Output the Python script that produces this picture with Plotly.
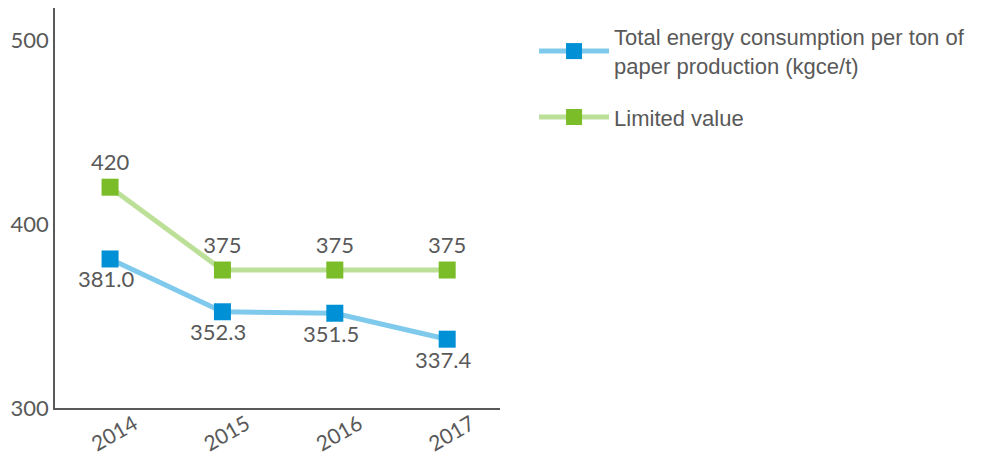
import plotly.graph_objects as go

years = ["2014", "2015", "2016", "2017"]
energy = [381.0, 352.3, 351.5, 337.4]
limit = [420, 375, 375, 375]

GRAY = "#595959"
FONT_NUM = "Lato"
FONT_TXT = "Liberation Sans"

fig = go.Figure()
fig.add_trace(go.Scatter(
    x=years, y=energy, mode="lines+markers",
    name="Total energy consumption per ton of<br>paper production (kgce/t)",
    legendgroup="energy",
    line=dict(color="#7fc9ec", width=5),
    marker=dict(symbol="square", size=17, color="#0090d5"),
))
fig.add_trace(go.Scatter(
    x=years, y=limit, mode="lines+markers+text",
    name="Limited value",
    legendgroup="limit",
    line=dict(color="#bde099", width=5),
    marker=dict(symbol="square", size=17, color="#7bbd28"),
    texttemplate="%{y}", textposition="top center",
    textfont=dict(family=FONT_NUM, size=22, color=GRAY),
))

# value labels for the consumption series sit just under the markers
for i, v in enumerate(energy):
    fig.add_annotation(
        x=i, y=v, xref="x", yref="y", text=f"{v:.1f}", showarrow=False,
        xanchor="center", yanchor="middle", xshift=-4, yshift=-20,
        font=dict(family=FONT_NUM, size=22, color=GRAY),
    )

fig.update_layout(
    width=984, height=463,
    margin=dict(l=55, r=484, t=8, b=55, autoexpand=False),
    plot_bgcolor="white", paper_bgcolor="white",
    showlegend=True,
    legend=dict(
        x=1.0765, y=0.98, xanchor="left", yanchor="top",
        font=dict(family=FONT_TXT, size=22, color=GRAY),
        tracegroupgap=20, itemwidth=70,
        bgcolor="rgba(0,0,0,0)",
    ),
    xaxis=dict(
        type="category", range=[-0.49, 3.47], automargin=False,
        showline=True, linecolor=GRAY, linewidth=1.5,
        showgrid=False, ticks="", ticklen=0, tickangle=-30,
        ticklabelshift=24, ticklabelstandoff=-6,
        tickfont=dict(family=FONT_NUM, size=21, color=GRAY),
    ),
    yaxis=dict(
        range=[300, 517.4], tickvals=[300, 400, 500], automargin=False,
        showline=True, linecolor=GRAY, linewidth=1.5,
        showgrid=False, zeroline=False, ticks="", ticklen=0,
        tickfont=dict(family=FONT_NUM, size=22, color=GRAY),
    ),
)

fig.write_html(
    "out.html",
    config={"displayModeBar": False},
    post_script="document.body.style.margin='0';",
)
